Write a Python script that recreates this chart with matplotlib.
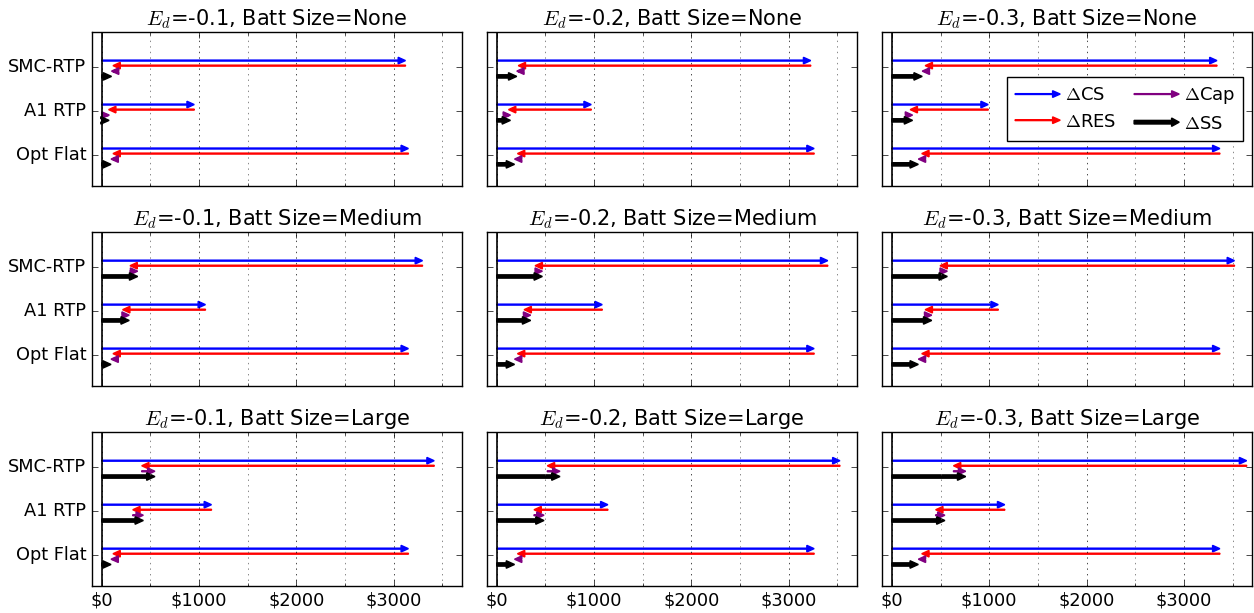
import numpy as np
import matplotlib
matplotlib.use("Agg")
import matplotlib.pyplot as plt
import matplotlib.patches as mpatches
from matplotlib.legend_handler import HandlerPatch
from matplotlib.ticker import MultipleLocator, FuncFormatter

plt.style.use("classic")

# ------------------------------------------------------------------------------
#   data (rows = battery size, columns = elasticity, inner = tariff)
# ------------------------------------------------------------------------------
tariffs = ["SMC-RTP", "A1 RTP", "Opt Flat"]
elasticities = [-0.1, -0.2, -0.3]
batt_sizes = ["None", "Medium", "Large"]

# change in consumer surplus
delta_cs = [
    [[3120, 950, 3150], [3225, 970, 3260], [3340, 990, 3370]],
    [[3295, 1065, 3150], [3400, 1083, 3260], [3520, 1093, 3370]],
    [[3415, 1127, 3150], [3525, 1141, 3260], [3645, 1160, 3370]],
]
# change in retailer surplus (drawn leftwards from the end of delta cs)
delta_res = [
    [[3005, 880, 3035], [3005, 850, 3048], [2998, 802, 3063]],
    [[3005, 851, 3035], [3007, 803, 3048], [3025, 751, 3063]],
    [[3005, 809, 3035], [3006, 759, 3048], [3012, 710, 3063]],
]
# change in capacity cost
delta_cap = [
    [[-15, 5, -20], [-15, 20, -30], [-30, 25, -35]],
    [[79, 68, -20], [75, 68, -30], [75, 68, -35]],
    [[136, 109, -20], [130, 103, -30], [126, 95, -35]],
]
# change in social surplus
delta_ss = [
    [[100, 75, 95], [205, 140, 182], [312, 213, 272]],
    [[369, 282, 95], [468, 348, 182], [570, 410, 272]],
    [[546, 427, 95], [649, 485, 182], [759, 545, 272]],
]

# ------------------------------------------------------------------------------
#   style of the arrows
# ------------------------------------------------------------------------------
thin = dict(width=0.022, head_width=0.15, head_length=75, linewidth=1,
            length_includes_head=True)
thick = dict(width=0.075, head_width=0.17, head_length=85, linewidth=1,
             length_includes_head=True)


# makes the arrow glyph for the legend
def make_legend_arrow(legend, orig_handle, xdescent, ydescent, width, height,
                      fontsize):
    if orig_handle.get_label() == "$\\Delta$SS":
        w, hw = 2.6, 6.0
    else:
        w, hw = 0.6, 4.8
    return mpatches.FancyArrow(0, 0.5 * height, width, 0, width=w,
                               head_width=hw, head_length=5.5,
                               length_includes_head=True, linewidth=1)


fig, axes = plt.subplots(3, 3, sharex=True, sharey=True,
                         figsize=(12.54, 6.13), dpi=100)
fig.patch.set_facecolor("white")
fig.subplots_adjust(left=0.0734, right=0.9984, bottom=0.044, top=0.9478,
                    wspace=0.068, hspace=0.3)

ypos = [2, 1, 0]

for b in range(3):
    for e in range(3):
        ax = axes[b, e]
        for t in range(3):
            y = ypos[t]
            cs = delta_cs[b][e][t]
            res = delta_res[b][e][t]
            cap = delta_cap[b][e][t]
            ss = delta_ss[b][e][t]
            ax.arrow(0, y + 0.15, cs, 0, color="b", **thin)
            ax.arrow(cs, y + 0.035, -res, 0, color="r", **thin)
            ax.arrow(cs - res, y - 0.09, cap, 0, color="purple", **thin)
            ax.arrow(0, y - 0.21, ss, 0, color="k", **thick)
        ax.axvline(0, color="k", linewidth=1.2)
        ax.set_title("$E_d$=%g, Batt Size=%s" % (elasticities[e], batt_sizes[b]),
                     fontsize=15.0)
        ax.set_xlim(-100, 3700)
        ax.set_ylim(-0.7, 2.8)
        ax.xaxis.set_major_locator(MultipleLocator(1000))
        ax.xaxis.set_minor_locator(MultipleLocator(500))
        ax.xaxis.set_major_formatter(FuncFormatter(lambda v, p: "\\$%d" % v))
        ax.grid(True, which="major", axis="x")
        ax.grid(True, which="minor", axis="x", color="0.35")
        ax.set_yticks(ypos)
        ax.set_yticklabels(tariffs)
        ax.tick_params(labelsize=12.8)

# legend with arrow glyphs in the top right panel
handles = [
    mpatches.FancyArrow(0, 0, 1, 0, color="b", label="$\\Delta$CS"),
    mpatches.FancyArrow(0, 0, 1, 0, color="r", label="$\\Delta$RES"),
    mpatches.FancyArrow(0, 0, 1, 0, color="purple", label="$\\Delta$Cap"),
    mpatches.FancyArrow(0, 0, 1, 0, color="k", label="$\\Delta$SS"),
]
axes[0, 2].legend(handles=handles, loc="center right", ncol=2, fontsize=13,
                  handlelength=2.5, handletextpad=0.25, columnspacing=1.0,
                  labelspacing=0.45, borderpad=0.45,
                  handler_map={mpatches.FancyArrow:
                               HandlerPatch(patch_func=make_legend_arrow)})

plt.savefig("out.png", dpi=100, facecolor="white")
